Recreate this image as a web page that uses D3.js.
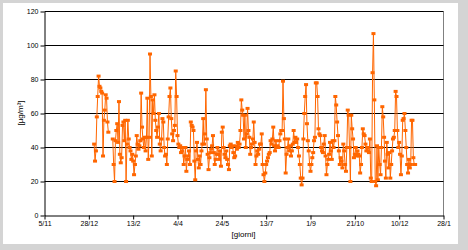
<!DOCTYPE html>
<html><head><meta charset="utf-8">
<script src="https://cdn.jsdelivr.net/npm/d3@7"></script>
<style>body{margin:0;background:#fff}svg{display:block}text{font-family:"Liberation Sans",Arial,sans-serif}</style>
</head><body>
<svg id="c" width="468" height="250"></svg>
<script>
// x tick labels (every 50 days from 5/11)
const xTickLabels = ["5/11","28/12","13/2","4/4","24/5","13/7","1/9","21/10","10/12","28/1"];
const xTickDays = [0,50,100,150,200,250,300,350,400,450];
const yTicks = [0,20,40,60,80,100,120];
// first day of data, counted in days from 5/11
const firstDay = 56;
// daily concentrations [µg/m³] (null = missing day)
const values = [
42,32,38,58,70,82,76,75,73,72,35,56,62,71,69,55,49,
null,null,null,null,
45,30,20,44,50,54,43,67,36,31,34,53,55,44,56,20,42,56,45,40,38,33,36,32,
24,30,35,47,42,39,41,44,72,52,45,40,46,38,46,69,33,46,95,70,
35,68,60,71,56,50,46,52,60,42,38,45,57,55,40,35,36,30,45,58,
70,75,57,48,44,50,53,85,70,47,42,40,41,37,38,40,30,35,40,26,
33,35,38,30,55,53,52,50,32,21,38,43,33,28,35,30,38,42,57,42,
48,74,45,36,27,34,37,39,41,47,37,30,33,36,40,36,33,38,29,49,
52,40,36,34,38,33,30,27,41,42,40,41,37,34,35,41,39,43,40,42,
50,68,62,59,45,59,40,48,63,50,46,36,40,42,45,55,43,30,35,38,
36,39,42,42,48,30,24,20,25,30,32,34,36,37,44,42,45,52,41,38,
44,40,41,40,44,48,50,50,79,57,45,25,36,40,45,38,41,35,38,42,
50,43,46,43,45,40,35,30,22,18,22,45,60,70,77,54,44,38,30,26,
30,34,37,44,46,78,78,70,51,48,47,40,38,37,42,47,35,24,30,33,
36,43,38,33,44,40,44,70,65,55,47,38,30,34,32,28,42,38,30,26,
40,62,59,40,20,59,51,45,34,36,40,35,38,36,35,25,30,40,51,48,
47,42,38,40,38,37,45,22,20,84,107,68,20,17.5,41,21,40,30,24,40,
64,58,46,32,22,43,36,28,37,22,30,38,45,46,50,73,70,50,40,43,
36,24,35,56,57,60,50,40,30,25,33,28,30,56,56,34,30,30
];

const data = values.map((v,i)=>({d:firstDay+i, v:v}));

const svg = d3.select("#c");
svg.append("rect").attr("x",0).attr("y",0).attr("width",468).attr("height",250).attr("fill","#d4d4d4");
svg.append("rect").attr("x",3).attr("y",3).attr("width",455).attr("height",241).attr("fill","#ffffff");

const x = d3.scaleLinear().domain([0,450]).range([44.5,443.5]);
const y = d3.scaleLinear().domain([0,120]).range([215.5,11.5]);

// plot border (right side gray)
svg.append("line").attr("x1",443.5).attr("x2",443.5).attr("y1",11.5).attr("y2",215.5)
  .attr("stroke","#808080").attr("stroke-width",1);

// gridlines
svg.append("g").selectAll("line").data(yTicks.filter(d=>d>0)).join("line")
  .attr("x1",44.5).attr("x2",443.5).attr("y1",d=>y(d)).attr("y2",d=>y(d))
  .attr("stroke","#000").attr("stroke-width",1);

// axes
const yAxis = d3.axisLeft(y).tickValues(yTicks).tickSize(4).tickSizeOuter(0).tickPadding(2);
const gy = svg.append("g").attr("transform","translate(44.5,0)").call(yAxis);
const xAxis = d3.axisBottom(x).tickValues(xTickDays).tickFormat((d,i)=>xTickLabels[i]).tickSize(4).tickSizeOuter(0).tickPadding(2);
const gx = svg.append("g").attr("transform","translate(0,215.5)").call(xAxis);
[gx,gy].forEach(g=>{
  g.selectAll("path,line").attr("stroke","#000");
  g.selectAll("text").attr("font-size","7px").attr("fill","#000").attr("font-family","'Liberation Sans',Arial,sans-serif");
});

// series line
const line = d3.line().defined(d=>d.v!=null).x(d=>x(d.d)).y(d=>y(d.v));
svg.append("path").datum(data).attr("d",line).attr("fill","none")
  .attr("stroke","#FF6600").attr("stroke-width",1);

// markers
svg.append("g").selectAll("rect").data(data.filter(d=>d.v!=null)).join("rect")
  .attr("x",d=>x(d.d)-2).attr("y",d=>y(d.v)-1.5).attr("width",4).attr("height",3)
  .attr("fill","#FF6600");

// axis titles
svg.append("text").attr("x",243.5).attr("y",237).attr("text-anchor","middle")
  .attr("font-size","8px").text("[giorni]");
svg.append("text").attr("transform","translate(23,113) rotate(-90)").attr("text-anchor","middle")
  .attr("font-size","8px").text("[µg/m³]");
</script>
</body></html>
